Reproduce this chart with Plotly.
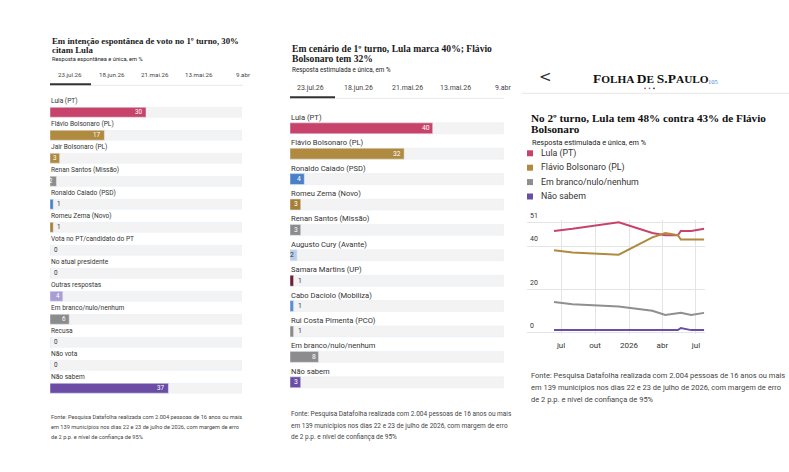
import plotly.graph_objects as go

W, H = 789, 472

# painel 1 - espontânea
cats1 = ["Lula (PT)", "Flávio Bolsonaro (PL)", "Jair Bolsonaro (PL)", "Renan Santos (Missão)",
         "Ronaldo Caiado (PSD)", "Romeu Zema (Novo)", "Vota no PT/candidato do PT",
         "No atual presidente", "Outras respostas", "Em branco/nulo/nenhum", "Recusa",
         "Não vota", "Não sabem"]
vals1 = [30, 17, 3, 2, 1, 1, 0, 0, 4, 6, 0, 0, 37]
cols1 = ["#c8436c", "#b08a3e", "#b08a3e", "#8c8c8c", "#4a80c8", "#a67f34", "#cccccc",
         "#cccccc", "#a99dd4", "#8c8c8c", "#cccccc", "#cccccc", "#6b4da6"]

# painel 2 - estimulada 1o turno
cats2 = ["Lula (PT)", "Flávio Bolsonaro (PL)", "Ronaldo Caiado (PSD)", "Romeu Zema (Novo)",
         "Renan Santos (Missão)", "Augusto Cury (Avante)", "Samara Martins (UP)",
         "Cabo Daciolo (Mobiliza)", "Rui Costa Pimenta (PCO)", "Em branco/nulo/nenhum",
         "Não sabem"]
vals2 = [40, 32, 4, 3, 3, 2, 1, 1, 1, 8, 3]
cols2 = ["#c8436c", "#b08a3e", "#4a80c8", "#a67f34", "#8c8c8c", "#b9cdea", "#6d1f35",
         "#5a8fd4", "#8c8c8c", "#8c8c8c", "#6b4da6"]

tabs = ["23.jul.26", "18.jun.26", "21.mai.26", "13.mai.26", "9.abr"]

# painel 3 - 2o turno
dates3 = ["2025-06-12", "2025-08-01", "2025-12-04", "2026-03-05", "2026-04-09",
          "2026-05-13", "2026-05-21", "2026-06-18", "2026-07-23"]
lula3 = [47, 48, 51, 46, 45, 45, 47, 47, 48]
flavio3 = [38, 37, 36, 44, 46, 45, 43, 43, 43]
branco3 = [14, 13, 12, 10, 8, 9, 9, 8, 9]
naosabem3 = [1, 1, 1, 1, 1, 1, 2, 1, 1]
names3 = ["Lula (PT)", "Flávio Bolsonaro (PL)", "Em branco/nulo/nenhum", "Não sabem"]
cols3 = ["#c8436c", "#b08a3e", "#8f8f8f", "#6a4ea5"]

fonte = ["Fonte: Pesquisa Datafolha realizada com 2.004 pessoas de 16 anos ou mais",
         "em 139 municípios nos dias 22 e 23 de julho de 2026, com margem de erro",
         "de 2 p.p. e nível de confiança de 95%"]

SANS = "Roboto"
SERIF = "Liberation Serif"
TXT = "#333333"


def px(x):
    return x / W


def py(y):
    # small vertical tweak, the page came out a bit low at the top
    y = (y - 8.7) / 0.981
    return 1 - y / H


fig = go.Figure()
annots = []
shapes = []


def bar_panel(n, cats, vals, cols, x0, x1, ytop, pitch, lab_size, val_size):
    xa = "x" if n == 1 else "x%d" % n
    ya = "y" if n == 1 else "y%d" % n
    k = len(cats)
    fig.add_trace(go.Bar(x=[60] * k, y=list(range(k)), orientation="h", width=0.43,
                         marker_color="#f3f3f3", xaxis=xa, yaxis=ya, hoverinfo="skip",
                         showlegend=False))
    fig.add_trace(go.Bar(x=vals, y=list(range(k)), orientation="h", width=0.43,
                         marker_color=cols, xaxis=xa, yaxis=ya, showlegend=False))
    for i, (c, v, col) in enumerate(zip(cats, vals, cols)):
        annots.append(dict(x=0, y=i, xref=xa, yref=ya, text=c, showarrow=False,
                           xanchor="left", yanchor="middle", yshift=11, xshift=-1,
                           font=dict(family=SANS, size=lab_size, color=TXT)))
        if v >= 2:
            fc = "#333333" if col == "#b9cdea" else "white"
            annots.append(dict(x=v, y=i, xref=xa, yref=ya, text=str(v), showarrow=False,
                               xanchor="right", xshift=-1,
                               font=dict(family=SANS, size=val_size, color=fc)))
        else:
            annots.append(dict(x=v, y=i, xref=xa, yref=ya, text=str(v), showarrow=False,
                               xanchor="left", xshift=2,
                               font=dict(family=SANS, size=val_size, color=TXT)))
    ybot = ytop + pitch * (k - 1)
    fig.layout[("xaxis" if n == 1 else "xaxis%d" % n)] = dict(
        domain=[px(x0), px(x1)], range=[0, 60], visible=False, anchor=ya)
    fig.layout[("yaxis" if n == 1 else "yaxis%d" % n)] = dict(
        domain=[py(ybot + pitch / 2), py(ytop - pitch / 2)], range=[k - 0.5, -0.5],
        visible=False, anchor=xa)


bar_panel(1, cats1, vals1, cols1, 50, 242, 112, 23, 6.6, 6.3)
bar_panel(2, cats2, vals2, cols2, 290, 504, 128, 25.4, 7.6, 6.8)


def header(x, title_lines, ty, tsize, tpitch, sub, sy, ssize, tab_x, tab_y, tsz, line_y, ul_x1, x_end):
    for j, t in enumerate(title_lines):
        annots.append(dict(x=px(x), y=py(ty + j * tpitch), xref="paper", yref="paper",
                           text="<b>%s</b>" % t, showarrow=False, xanchor="left",
                           yanchor="middle",
                           font=dict(family=SERIF, size=tsize, color="#1a1a1a")))
    annots.append(dict(x=px(x), y=py(sy), xref="paper", yref="paper", text=sub,
                       showarrow=False, xanchor="left", yanchor="middle",
                       font=dict(family=SANS, size=ssize, color="#222222")))
    for t, tx in zip(tabs, tab_x):
        annots.append(dict(x=px(tx), y=py(tab_y), xref="paper", yref="paper", text=t,
                           showarrow=False, xanchor="center", yanchor="middle",
                           font=dict(family=SANS, size=tsz, color="#444444")))
    shapes.append(dict(type="line", xref="paper", yref="paper", x0=px(x), x1=px(x_end),
                       y0=py(line_y + 1), y1=py(line_y + 1),
                       line=dict(color="#e8e8e8", width=1)))
    shapes.append(dict(type="line", xref="paper", yref="paper", x0=px(x), x1=px(ul_x1),
                       y0=py(line_y), y1=py(line_y), line=dict(color="#333333", width=2)))


header(50, ["Em intenção espontânea de voto no 1º turno, 30%", "citam Lula"], 40.5, 8.8, 9,
       "Resposta espontânea e única, em %", 59, 5.7,
       [70, 111.5, 154.5, 199, 243], 75, 6.2, 84, 91, 243)
header(290, ["Em cenário de 1º turno, Lula marca 40%; Flávio", "Bolsonaro tem 32%"], 48.5, 9.6, 10,
       "Resposta estimulada e única, em %", 69.5, 6.3,
       [310, 358, 407, 455.5, 503], 87.5, 7, 97, 335, 504)


def rodape(x, ys, size):
    for t, yy in zip(fonte, ys):
        annots.append(dict(x=px(x), y=py(yy), xref="paper", yref="paper", text=t,
                           showarrow=False, xanchor="left", yanchor="middle",
                           font=dict(family=SANS, size=size, color="#444444")))


rodape(49, [416.5, 426.5, 436.5], 5.65)
rodape(289, [414, 425.5, 436.5], 6.5)
rodape(529, [375, 387, 399], 7.5)

# painel 3 - cabeçalho do app
annots.append(dict(x=px(537), y=py(77), xref="paper", yref="paper", text="<",
                   showarrow=False, xanchor="left", yanchor="middle",
                   font=dict(family="DejaVu Sans", size=15, color="#333333")))
logo = ("<b><span style='font-size:13.5px'>F</span>OLHA <span style='font-size:13.5px'>D</span>E "
        "<span style='font-size:13.5px'>S.P</span>AULO</b>")
annots.append(dict(x=px(591), y=py(78), xref="paper", yref="paper", text=logo,
                   showarrow=False, xanchor="left", yanchor="middle",
                   font=dict(family=SERIF, size=11.3, color="#111111")))
annots.append(dict(x=px(706), y=py(81), xref="paper", yref="paper", text="105",
                   showarrow=False, xanchor="left", yanchor="middle",
                   font=dict(family=SERIF, size=6.5, color="#4a86c4")))
for dx, dc in zip([645, 649.5, 654], ["#d04050", "#4a86c4", "#333333"]):
    shapes.append(dict(type="circle", xref="paper", yref="paper", x0=px(dx - 0.9),
                       x1=px(dx + 0.9), y0=py(88.9), y1=py(87.1), fillcolor=dc,
                       line=dict(width=0)))
shapes.append(dict(type="line", xref="paper", yref="paper", x0=px(522), x1=px(789),
                   y0=py(93), y1=py(93), line=dict(color="#e6e6e6", width=1)))

for j, t in enumerate(["No 2º turno, Lula tem 48% contra 43% de Flávio", "Bolsonaro"]):
    annots.append(dict(x=px(529), y=py(118 + j * 11), xref="paper", yref="paper",
                       text="<b>%s</b>" % t, showarrow=False, xanchor="left",
                       yanchor="middle", font=dict(family=SERIF, size=11.2, color="#111111")))
annots.append(dict(x=px(530), y=py(142), xref="paper", yref="paper",
                   text="Resposta estimulada e única, em %", showarrow=False,
                   xanchor="left", yanchor="middle",
                   font=dict(family=SANS, size=7.3, color="#222222")))
for j, (nm, c) in enumerate(zip(names3, cols3)):
    yy = 153 + j * 14.4
    shapes.append(dict(type="rect", xref="paper", yref="paper", x0=px(527), x1=px(533),
                       y0=py(yy + 3), y1=py(yy - 3), fillcolor=c, line=dict(width=0)))
    annots.append(dict(x=px(539), y=py(yy), xref="paper", yref="paper", text=nm,
                       showarrow=False, xanchor="left", yanchor="middle",
                       font=dict(family=SANS, size=8.8, color="#333333")))

for ys, nm, c in zip([lula3, flavio3, branco3, naosabem3], names3, cols3):
    fig.add_trace(go.Scatter(x=dates3, y=ys, mode="lines", name=nm, xaxis="x3",
                             yaxis="y3", line=dict(color=c, width=2), showlegend=False))

fig.update_layout(
    xaxis3=dict(domain=[px(527), px(704.5)], range=["2025-03-31", "2026-07-24"],
                anchor="y3", type="date", showgrid=True, gridcolor="#e4e4e4",
                tickvals=["2025-07-01", "2025-10-01", "2026-01-01", "2026-04-01", "2026-07-01"],
                ticktext=["jul", "out", "2026", "abr", "jul"], ticks="", showline=False,
                zeroline=False, ticklabelstandoff=5,
                tickfont=dict(family=SANS, size=8, color="#333333")),
    yaxis3=dict(domain=[py(334), py(220)], range=[-0.93, 51.93], anchor="x3",
                tickvals=[0, 20, 40, 51], showgrid=True, gridcolor="#e4e4e4",
                zeroline=False, showline=False, ticks="", ticklabelposition="inside",
                ticklabelshift=-7, ticklabelstandoff=0, ticklabeloverflow="allow",
                tickfont=dict(family=SANS, size=7, color="#333333")),
)

fig.update_layout(width=W, height=H, margin=dict(l=0, r=0, t=0, b=0),
                  paper_bgcolor="white", plot_bgcolor="white", barmode="overlay",
                  annotations=annots, shapes=shapes, hovermode=False)

reset = ("document.documentElement.style.margin='0';"
         "document.documentElement.style.padding='0';"
         "document.body.style.margin='0';document.body.style.padding='0';"
         "document.body.style.overflow='hidden';window.scrollTo(0,0);")
fig.write_html("out.html", config={"displayModeBar": False}, post_script=reset)
